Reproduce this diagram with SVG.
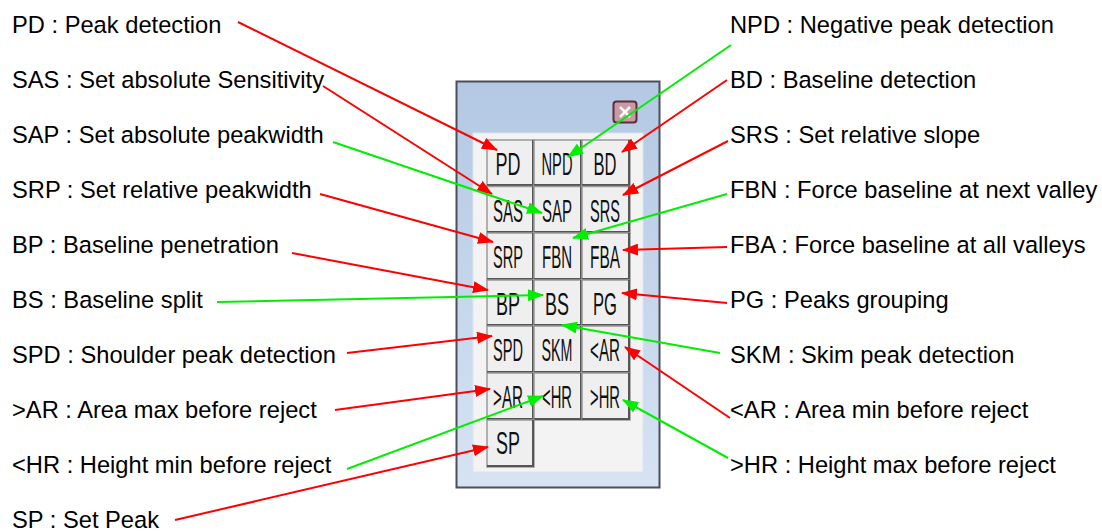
<svg xmlns="http://www.w3.org/2000/svg" width="1102" height="531" viewBox="0 0 1102 531">
<style>
.lbl{font-family:"Liberation Sans",Arial,sans-serif;font-size:23.7px;fill:#000}
.btn rect.face{fill:#efefef;stroke:#9a9a9a;stroke-width:1.5}
.btn path.sh{fill:none;stroke:#555;stroke-width:2}
.bt{font-family:"Liberation Sans",Arial,sans-serif;font-size:32px;fill:#111;text-anchor:middle}
.r{stroke:#ff0000;stroke-width:2;fill:none;marker-end:url(#mr)}
.g{stroke:#00ee00;stroke-width:2;fill:none;marker-end:url(#mg)}
</style>
<defs>
<linearGradient id="frame" x1="0" y1="0" x2="0" y2="1">
<stop offset="0" stop-color="#b3c8e3"/>
<stop offset="1" stop-color="#d6e3f3"/>
</linearGradient>
<marker id="mr" viewBox="0 0 16 12" refX="15" refY="6" markerWidth="16" markerHeight="12" markerUnits="userSpaceOnUse" orient="auto"><path d="M0,0 L16,6 L0,12 z" fill="#ff0000"/></marker>
<marker id="mg" viewBox="0 0 16 12" refX="15" refY="6" markerWidth="16" markerHeight="12" markerUnits="userSpaceOnUse" orient="auto"><path d="M0,0 L16,6 L0,12 z" fill="#00ee00"/></marker>
</defs>
<rect width="1102" height="531" fill="#fff"/>

<g id="panel">
<rect x="456.5" y="81.5" width="203" height="406" fill="url(#frame)" stroke="#4a4f58" stroke-width="2"/>
<rect x="473" y="133" width="170" height="339" fill="#f3f3f3" stroke="#dde5ef" stroke-width="1"/>
<g id="close">
<rect x="613.5" y="101.5" width="23" height="21" rx="3" fill="#c99aa6" stroke="#5e2c3a" stroke-width="2"/>
<path d="M620,107 L630,117 M630,107 L620,117" stroke="#fff" stroke-width="2.5"/>
</g>
</g>

<g id="buttons" class="btn">
<g id="b-PD"><rect class="face" x="487" y="140" width="47" height="46"/><path class="sh" d="M487,185 H533 V140"/><text class="bt" transform="translate(508,175) scale(0.563,1)">PD</text></g>
<g id="b-NPD"><rect class="face" x="534" y="140" width="48" height="46"/><path class="sh" d="M534,185 H581 V140"/><text class="bt" transform="translate(557,175) scale(0.459,1)">NPD</text></g>
<g id="b-BD"><rect class="face" x="582" y="140" width="48" height="46"/><path class="sh" d="M582,185 H629 V140"/><text class="bt" transform="translate(605,175) scale(0.518,1)">BD</text></g>

<g id="b-SAS"><rect class="face" x="487" y="186.5" width="47" height="46.5"/><path class="sh" d="M487,232 H533 V186.5"/><text class="bt" transform="translate(508,221.5) scale(0.469,1)">SAS</text></g>
<g id="b-SAP"><rect class="face" x="534" y="186.5" width="48" height="46.5"/><path class="sh" d="M534,232 H581 V186.5"/><text class="bt" transform="translate(557,221.5) scale(0.469,1)">SAP</text></g>
<g id="b-SRS"><rect class="face" x="582" y="186.5" width="48" height="46.5"/><path class="sh" d="M582,232 H629 V186.5"/><text class="bt" transform="translate(605,221.5) scale(0.456,1)">SRS</text></g>

<g id="b-SRP"><rect class="face" x="487" y="233" width="47" height="47"/><path class="sh" d="M487,279 H533 V233"/><text class="bt" transform="translate(508,268) scale(0.456,1)">SRP</text></g>
<g id="b-FBN"><rect class="face" x="534" y="233" width="48" height="47"/><path class="sh" d="M534,279 H581 V233"/><text class="bt" transform="translate(557,268) scale(0.469,1)">FBN</text></g>
<g id="b-FBA"><rect class="face" x="582" y="233" width="48" height="47"/><path class="sh" d="M582,279 H629 V233"/><text class="bt" transform="translate(605,268) scale(0.482,1)">FBA</text></g>

<g id="b-BP"><rect class="face" x="487" y="280" width="47" height="46"/><path class="sh" d="M487,325 H533 V280"/><text class="bt" transform="translate(508,315) scale(0.562,1)">BP</text></g>
<g id="b-BS"><rect class="face" x="534" y="280" width="48" height="46"/><path class="sh" d="M534,325 H581 V280"/><text class="bt" transform="translate(557,315) scale(0.562,1)">BS</text></g>
<g id="b-PG"><rect class="face" x="582" y="280" width="48" height="46"/><path class="sh" d="M582,325 H629 V280"/><text class="bt" transform="translate(605,315) scale(0.519,1)">PG</text></g>

<g id="b-SPD"><rect class="face" x="487" y="326" width="47" height="47"/><path class="sh" d="M487,372 H533 V326"/><text class="bt" transform="translate(508,361) scale(0.456,1)">SPD</text></g>
<g id="b-SKM"><rect class="face" x="534" y="326" width="48" height="47"/><path class="sh" d="M534,372 H581 V326"/><text class="bt" transform="translate(557,361) scale(0.447,1)">SKM</text></g>
<g id="b-ltAR"><rect class="face" x="582" y="326" width="48" height="47"/><path class="sh" d="M582,372 H629 V326"/><text class="bt" transform="translate(605,361) scale(0.475,1)">&lt;AR</text></g>

<g id="b-gtAR"><rect class="face" x="487" y="373" width="47" height="47"/><path class="sh" d="M487,419 H533 V373"/><text class="bt" transform="translate(508,408) scale(0.475,1)">&gt;AR</text></g>
<g id="b-ltHR"><rect class="face" x="534" y="373" width="48" height="47"/><path class="sh" d="M534,419 H581 V373"/><text class="bt" transform="translate(557,408) scale(0.462,1)">&lt;HR</text></g>
<g id="b-gtHR"><rect class="face" x="582" y="373" width="48" height="47"/><path class="sh" d="M582,419 H629 V373"/><text class="bt" transform="translate(605,408) scale(0.462,1)">&gt;HR</text></g>

<g id="b-SP"><rect class="face" x="487" y="420" width="47" height="47"/><path class="sh" d="M487,466 H533 V420"/><text class="bt" transform="translate(508,454) scale(0.562,1)">SP</text></g>
</g>

<g id="labels-left">
<text id="l-PD" class="lbl" x="12" y="33">PD : Peak detection</text>
<text id="l-SAS" class="lbl" x="12" y="88">SAS : Set absolute Sensitivity</text>
<text id="l-SAP" class="lbl" x="12" y="143">SAP : Set absolute peakwidth</text>
<text id="l-SRP" class="lbl" x="12" y="198">SRP : Set relative peakwidth</text>
<text id="l-BP" class="lbl" x="12" y="253">BP : Baseline penetration</text>
<text id="l-BS" class="lbl" x="12" y="308">BS : Baseline split</text>
<text id="l-SPD" class="lbl" x="12" y="363">SPD : Shoulder peak detection</text>
<text id="l-gtAR" class="lbl" x="12" y="418">&gt;AR : Area max before reject</text>
<text id="l-ltHR" class="lbl" x="12" y="473">&lt;HR : Height min before reject</text>
<text id="l-SP" class="lbl" x="12" y="528">SP : Set Peak</text>
</g>
<g id="labels-right">
<text id="l-NPD" class="lbl" x="730" y="33">NPD : Negative peak detection</text>
<text id="l-BD" class="lbl" x="730" y="88">BD : Baseline detection</text>
<text id="l-SRS" class="lbl" x="730" y="143">SRS : Set relative slope</text>
<text id="l-FBN" class="lbl" x="730" y="198">FBN : Force baseline at next valley</text>
<text id="l-FBA" class="lbl" x="730" y="253">FBA : Force baseline at all valleys</text>
<text id="l-PG" class="lbl" x="730" y="308">PG : Peaks grouping</text>
<text id="l-SKM" class="lbl" x="730" y="363">SKM : Skim peak detection</text>
<text id="l-ltAR" class="lbl" x="730" y="418">&lt;AR : Area min before reject</text>
<text id="l-gtHR" class="lbl" x="730" y="473">&gt;HR : Height max before reject</text>
</g>

<g id="connectors">
<line class="r" x1="238" y1="22" x2="497" y2="150"/>
<line class="r" x1="323" y1="86" x2="492" y2="194"/>
<line class="g" x1="333" y1="142" x2="542" y2="213"/>
<line class="r" x1="320" y1="194" x2="493" y2="242"/>
<line class="r" x1="292" y1="253" x2="488" y2="290"/>
<line class="g" x1="217" y1="302" x2="543" y2="295"/>
<line class="r" x1="347" y1="353" x2="492" y2="336"/>
<line class="r" x1="335" y1="410" x2="490" y2="389"/>
<line class="g" x1="347" y1="469" x2="543" y2="396"/>
<line class="r" x1="175" y1="520" x2="488" y2="447"/>
<line class="g" x1="731" y1="45" x2="568" y2="157"/>
<line class="r" x1="727" y1="80" x2="622" y2="152"/>
<line class="r" x1="728" y1="141" x2="623" y2="195"/>
<line class="g" x1="727" y1="194" x2="573" y2="238"/>
<line class="r" x1="727" y1="247" x2="623" y2="250"/>
<line class="r" x1="727" y1="303" x2="622" y2="293"/>
<line class="g" x1="720" y1="353" x2="562" y2="325"/>
<line class="r" x1="730" y1="418" x2="625" y2="347"/>
<line class="g" x1="728" y1="458" x2="623" y2="400"/>
</g>
</svg>
